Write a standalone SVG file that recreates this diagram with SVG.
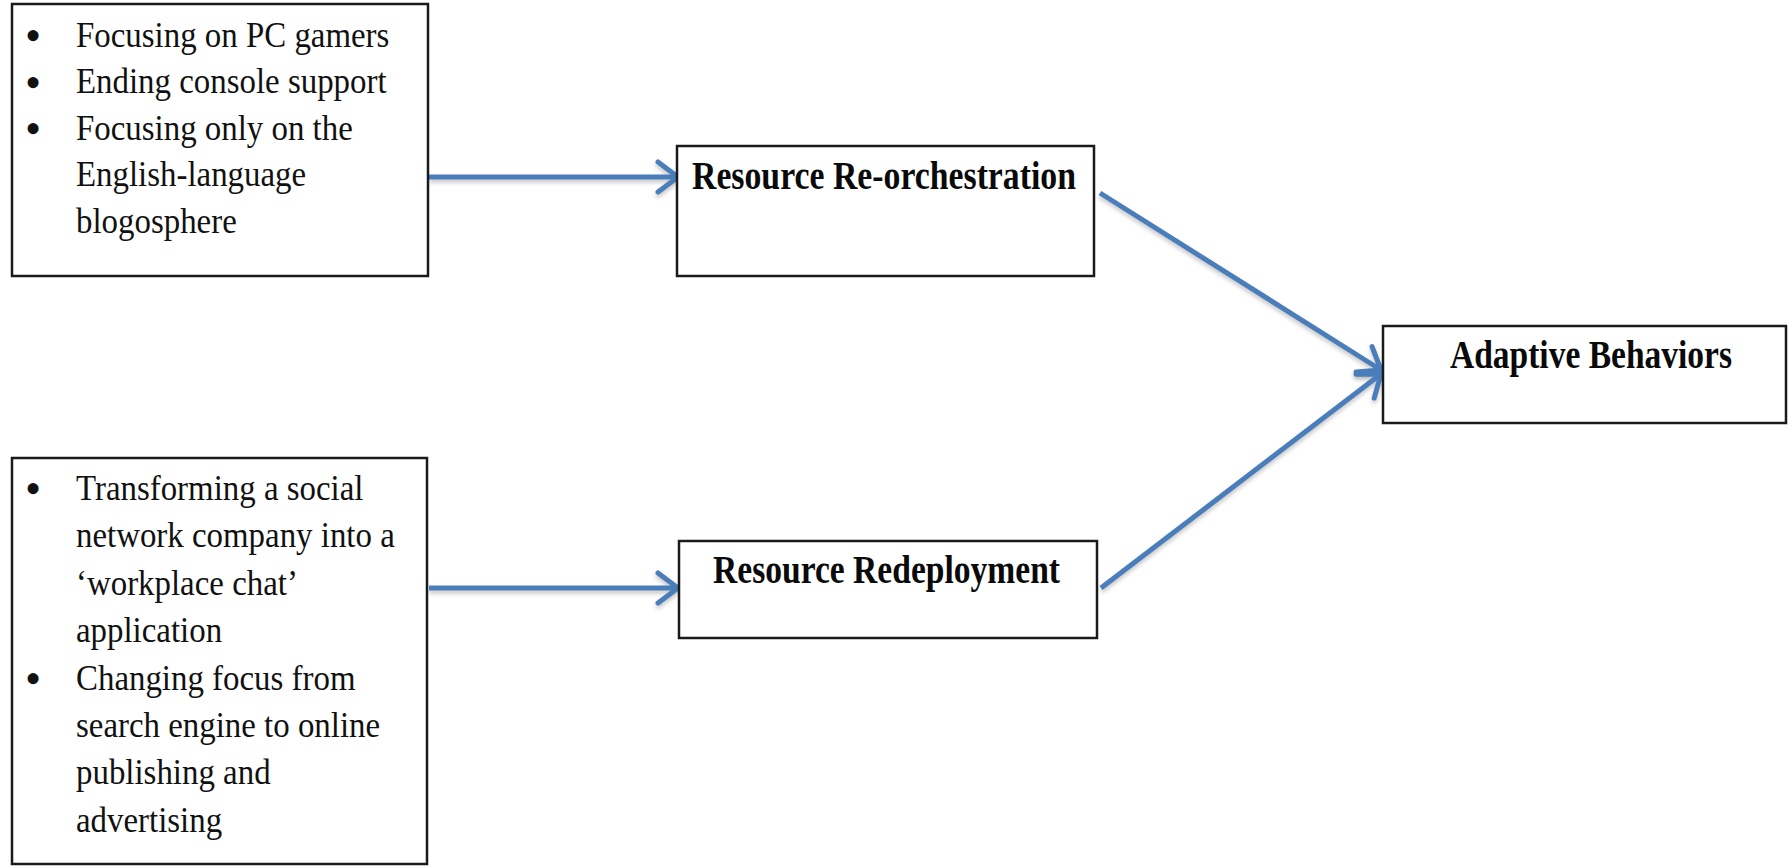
<svg xmlns="http://www.w3.org/2000/svg" width="1788" height="866" viewBox="0 0 1788 866">
  <style>
    .box { fill: #ffffff; stroke: #1a1a1a; stroke-width: 2.5; }
    .body { font-family: "Liberation Serif", "Times New Roman", serif; font-size: 35px; fill: #111; }
    .dot { font-family: "Liberation Serif", "Times New Roman", serif; font-size: 46px; fill: #111; }
    .title { font-family: "Liberation Serif", "Times New Roman", serif; font-size: 39px; font-weight: bold; fill: #0a0a0a; }
    .link { fill: none; stroke: #4a7ebb; stroke-width: 5; marker-end: url(#chevron); filter: url(#shade); }
  </style>
  <defs>
    <marker id="chevron" markerUnits="userSpaceOnUse" viewBox="-26 -20 30 40" refX="0" refY="0" markerWidth="30" markerHeight="40" orient="auto">
      <path d="M -20 -15 L 0 0 L -20 15" fill="none" stroke="#4a7ebb" stroke-width="5" stroke-linecap="round" stroke-linejoin="round"/>
    </marker>
    <filter id="shade" filterUnits="userSpaceOnUse" x="0" y="0" width="1788" height="866">
      <feDropShadow dx="0" dy="3" stdDeviation="2" flood-color="#808080" flood-opacity="0.45"/>
    </filter>
  </defs>

  <!-- connectors -->
  <g id="connectors">
    <path class="link" d="M 429 177 L 678 177"/>
    <path class="link" d="M 429 588 L 678 588"/>
    <path class="link" d="M 1100 193 L 1381 370"/>
    <path class="link" d="M 1101 588 L 1381 374"/>
  </g>

  <!-- examples of re-orchestration -->
  <g id="reorch-examples">
    <rect class="box" x="12" y="4" width="416" height="272"/>
    <text class="dot" x="25" y="51">•</text>
    <text class="dot" x="25" y="97.5">•</text>
    <text class="dot" x="25" y="144">•</text>
    <g transform="translate(76,0) scale(0.94,1)">
      <text class="body" x="0" y="47">Focusing on PC gamers</text>
      <text class="body" x="0" y="93.5">Ending console support</text>
      <text class="body" x="0" y="140">Focusing only on the</text>
      <text class="body" x="0" y="186.5">English-language</text>
      <text class="body" x="0" y="233">blogosphere</text>
    </g>
  </g>

  <!-- examples of redeployment -->
  <g id="redeploy-examples">
    <rect class="box" x="12" y="458" width="415" height="406"/>
    <text class="dot" x="25" y="504">•</text>
    <text class="dot" x="25" y="694">•</text>
    <g transform="translate(76,0) scale(0.94,1)">
      <text class="body" x="0" y="500">Transforming a social</text>
      <text class="body" x="0" y="547">network company into a</text>
      <text class="body" x="0" y="595">‘workplace chat’</text>
      <text class="body" x="0" y="642">application</text>
      <text class="body" x="0" y="690">Changing focus from</text>
      <text class="body" x="0" y="737">search engine to online</text>
      <text class="body" x="0" y="784">publishing and</text>
      <text class="body" x="0" y="832">advertising</text>
    </g>
  </g>

  <g id="reorchestration">
    <rect class="box" x="677" y="146" width="417" height="130"/>
    <text class="title" x="692" y="189" textLength="384" lengthAdjust="spacingAndGlyphs">Resource Re-orchestration</text>
  </g>

  <g id="redeployment">
    <rect class="box" x="679" y="541" width="418" height="97"/>
    <text class="title" x="713" y="583" textLength="347" lengthAdjust="spacingAndGlyphs">Resource Redeployment</text>
  </g>

  <g id="adaptive">
    <rect class="box" x="1383" y="326" width="403" height="97"/>
    <text class="title" x="1450" y="368" textLength="282" lengthAdjust="spacingAndGlyphs">Adaptive Behaviors</text>
  </g>
</svg>
